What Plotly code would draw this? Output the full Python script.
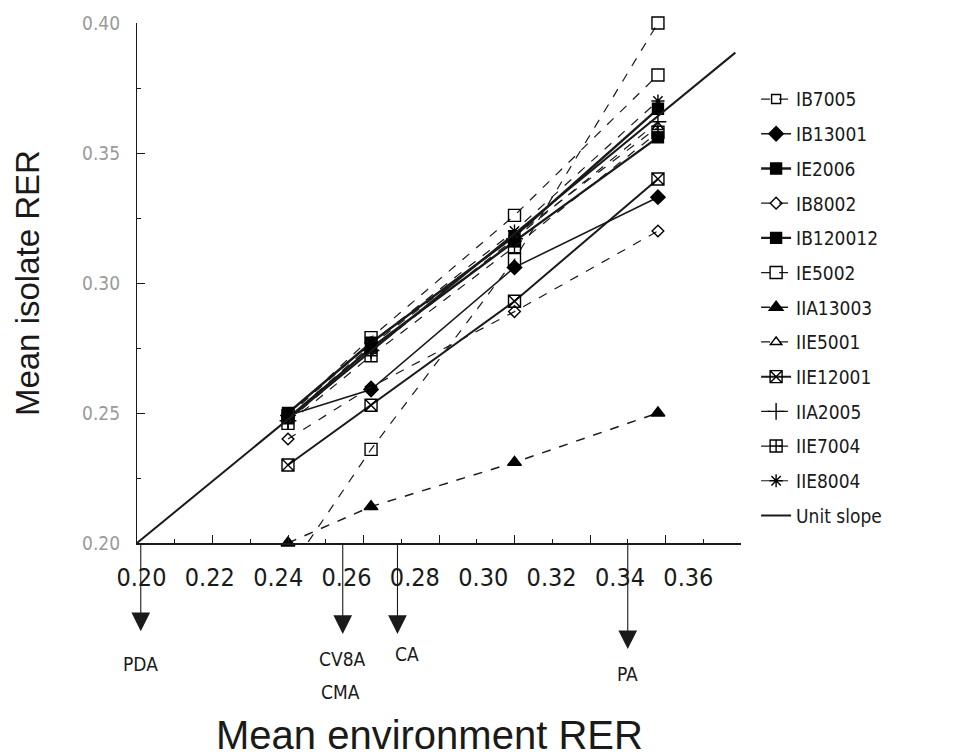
import plotly.graph_objects as go

# ---------------- data ----------------
env_rer = [0.24, 0.262, 0.30, 0.338]

series_names = ["IB7005", "IB13001", "IE2006", "IB8002", "IB120012", "IE5002",
                "IIA13003", "IIE5001", "IIE12001", "IIA2005", "IIE7004", "IIE8004"]

IB7005 = [0.189, 0.236, 0.309, 0.400]
IB13001 = [0.249, 0.259, 0.306, 0.333]
IE2006 = [0.250, 0.277, 0.318, 0.367]
IB8002 = [0.240, 0.260, 0.289, 0.320]
IB120012 = [0.248, 0.275, 0.316, 0.356]
IE5002 = [0.249, 0.279, 0.326, 0.380]
IIA13003 = [0.200, 0.214, 0.231, 0.250]
IIE5001 = [0.248, 0.276, 0.318, 0.360]
IIE12001 = [0.230, 0.253, 0.293, 0.340]
IIA2005 = [0.247, 0.274, 0.317, 0.362]
IIE7004 = [0.246, 0.272, 0.314, 0.358]
IIE8004 = [0.249, 0.277, 0.320, 0.370]

series_values = [IB7005, IB13001, IE2006, IB8002, IB120012, IE5002,
                 IIA13003, IIE5001, IIE12001, IIA2005, IIE7004, IIE8004]

unit_slope_x = [0.20, 0.3585]
unit_slope_y = [0.20, 0.3886]

x_ticks = [0.20, 0.22, 0.24, 0.26, 0.28, 0.30, 0.32, 0.34, 0.36]
x_ticktext = ["0.20", "0.22", "0.24", "0.26", "0.28", "0.30", "0.32", "0.34", "0.36"]
y_ticks = [0.20, 0.25, 0.30, 0.35, 0.40]
y_ticktext = ["0.20", "0.25", "0.30", "0.35", "0.40"]

arrow_labels = ["PDA", "CV8A", "CA", "PA"]
arrow_x = [0.201, 0.2545, 0.269, 0.330]
extra_label = "CMA"

# ---------------- styles ----------------
symbols = ["square-open", "diamond", "square", "diamond-open", "square", "square-open",
           "triangle-up", "triangle-up-open", "square-x-open", "cross-thin-open",
           "square-cross-open", "asterisk-open"]
dashes = ["dash", "solid", "solid", "dash", "solid", "dash",
          "dash", "dash", "solid", "dash", "dash", "dash"]
widths = [1.2, 1.6, 2.4, 1.2, 2.4, 1.2, 1.5, 1.2, 2.0, 1.2, 1.2, 1.2]
msizes = [12, 11, 11, 9, 11, 12, 12, 10, 12, 12, 12, 11]

FONT = "DejaVu Sans Condensed, Liberation Sans Narrow, Liberation Sans, Arial, sans-serif"
TFONT = "Liberation Sans, Arial, sans-serif"
INK = "#1a1a1a"
MK = "#000000"

fig = go.Figure()

for name, vals, sym, dsh, w, ms in zip(series_names, series_values, symbols, dashes, widths, msizes):
    # a point that lies below the axis range is not drawn as a marker
    sizes = [ms if v >= 0.2 else 0 for v in vals]
    fig.add_trace(go.Scatter(
        x=env_rer, y=vals, name=name, mode="lines+markers", legendgroup=name,
        line=dict(color=INK, width=w, dash=dsh),
        marker=dict(symbol=sym, size=sizes, color=MK, opacity=1,
                    line=dict(color=MK, width=1.4)),
        cliponaxis=False,
    ))

fig.add_trace(go.Scatter(
    x=unit_slope_x, y=unit_slope_y, name="Unit slope", mode="lines",
    legendgroup="Unit slope",
    line=dict(color=INK, width=2),
))

# invisible helper trace so that the label axis is drawn
fig.add_trace(go.Scatter(x=x_ticks, y=[None] * len(x_ticks), xaxis="x2",
                         showlegend=False, hoverinfo="skip", mode="markers"))

fig.update_layout(
    width=955, height=756,
    margin=dict(l=137, r=214, t=18, b=213),
    paper_bgcolor="white", plot_bgcolor="white",
    font=dict(family=FONT, color=INK, size=18),
    showlegend=True,
    legend=dict(x=1.025, y=0.89, xanchor="left", yanchor="top",
                font=dict(size=19, family=FONT, color=INK),
                bgcolor="rgba(0,0,0,0)", tracegroupgap=7, itemwidth=30),
    xaxis=dict(range=[0.20, 0.36], showline=True, linecolor=INK, linewidth=1.5,
               showgrid=False, zeroline=False, ticks="inside", ticklen=8, tickwidth=1.2,
               tickcolor=INK, tickvals=x_ticks, showticklabels=False,
               minor=dict(ticks="inside", ticklen=4, dtick=0.01, tickcolor=INK, showgrid=False)),
    xaxis2=dict(overlaying="x", anchor="y", side="bottom", range=[0.1987, 0.3754],
                showline=False, showgrid=False, zeroline=False, ticks="",
                tickvals=x_ticks, ticktext=x_ticktext, ticklabelstandoff=17,
                tickfont=dict(size=25, family=FONT, color=INK)),
    yaxis=dict(range=[0.20, 0.40], showline=True, linecolor=INK, linewidth=1.2,
               showgrid=False, zeroline=False, ticks="inside", ticklen=8, tickwidth=1.2,
               tickcolor=INK, tickvals=y_ticks, ticktext=y_ticktext,
               ticklabelstandoff=12,
               tickfont=dict(size=19, family=FONT, color="#9a9a9a"),
               minor=dict(ticks="inside", ticklen=4, dtick=0.025, tickcolor=INK, showgrid=False)),
)

# axis titles
fig.add_annotation(text="Mean isolate RER", xref="paper", yref="paper",
                   x=-0.182, y=0.50, xanchor="center", yanchor="middle",
                   textangle=-90, showarrow=False,
                   font=dict(size=33, family=TFONT, color=INK))
fig.add_annotation(text="Mean environment RER", xref="paper", yref="paper",
                   x=0.485, y=-0.3695, xanchor="center", yanchor="middle", showarrow=False,
                   font=dict(size=40, family=TFONT, color=INK))

# arrows below the x axis
tip_y = [-0.1695, -0.175, -0.175, -0.204]
label_y = [-0.2324, -0.2229, -0.2133, -0.2514]
label_shift = [0, 0, 10, 0]
for lab, xv, ty, ly, xs in zip(arrow_labels, arrow_x, tip_y, label_y, label_shift):
    fig.add_annotation(x=xv, y=ty, xref="x", yref="paper", text="",
                       showarrow=True, ax=0, ay=ty * 525, axref="pixel", ayref="pixel",
                       arrowhead=2, arrowsize=3.4, arrowwidth=1.1, arrowcolor=INK,
                       standoff=0, startstandoff=0)
    fig.add_annotation(x=xv, y=ly, xref="x", yref="paper", text=lab, showarrow=False,
                       xshift=xs, yanchor="middle",
                       font=dict(size=19, family=FONT, color=INK))
fig.add_annotation(x=arrow_x[1], y=-0.2857, xref="x", yref="paper", text=extra_label,
                   showarrow=False, xshift=-2, yanchor="middle",
                   font=dict(size=19, family=FONT, color=INK))

fig.write_html("out.html")
